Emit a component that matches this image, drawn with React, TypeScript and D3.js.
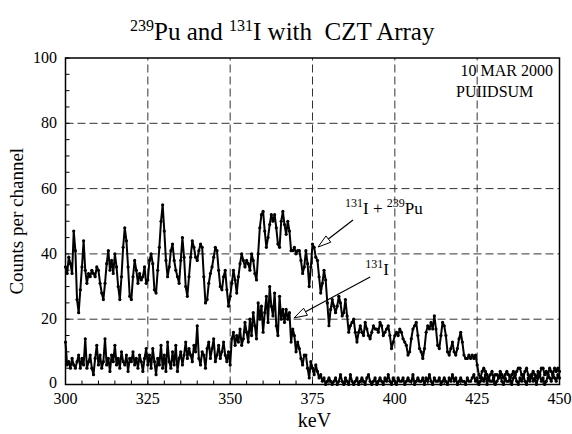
import React from 'react';
import * as d3 from 'd3';

const START_KEV = 300;
const CHANNEL_KEV = 0.5;

// 131I + 239Pu summed spectrum, counts per channel (0.5 keV channels from 300 keV)
const sumCounts = [
  36, 34, 39, 37, 34, 47, 41, 26, 22, 29, 36, 44, 35, 31, 34, 33, 35, 34, 33, 36,
  35, 31, 28, 26, 31, 37, 41, 35, 38, 34, 40, 36, 30, 26, 33, 42, 48, 44, 36, 27,
  26, 33, 38, 35, 31, 34, 32, 33, 36, 31, 32, 38, 40, 37, 29, 28, 35, 42, 50, 55,
  47, 38, 33, 36, 41, 43, 38, 35, 33, 31, 38, 45, 39, 30, 27, 33, 39, 44, 42, 39,
  38, 41, 43, 42, 33, 25, 26, 31, 34, 36, 39, 42, 41, 35, 30, 29, 33, 35, 29, 24,
  27, 31, 35, 32, 28, 33, 37, 40, 38, 36, 38, 37, 35, 40, 38, 34, 32, 40, 48, 52,
  53, 47, 42, 45, 49, 52, 50, 52, 48, 43, 42, 50, 53, 49, 46, 50, 47, 41, 41, 42,
  40, 41, 41, 38, 34, 36, 41, 37, 30, 36, 43, 42, 39, 38, 33, 28, 31, 35, 32, 25,
  18, 23, 26, 24, 22, 24, 27, 25, 21, 22, 26, 21, 16, 18, 19, 20, 16, 13, 16, 18,
  16, 15, 19, 17, 15, 14, 16, 18, 17, 17, 16, 19, 18, 15, 16, 17, 18, 15, 11, 13,
  15, 16, 15, 17, 16, 14, 13, 12, 9, 10, 14, 17, 18, 19, 15, 11, 10, 8, 11, 16,
  18, 17, 19, 17, 21, 17, 12, 11, 15, 19, 18, 15, 10, 9, 11, 13, 10, 9, 11, 14,
  16, 13, 9, 8, 8, 9, 8, 9, 8, 9, 6, 3, 2, 4, 5, 4, 3, 2, 3, 4,
  2, 3, 3, 2, 4, 3, 2, 3, 4, 3, 2, 3, 4, 3, 4, 5, 5, 3, 2, 4,
  5, 3, 2, 3, 4, 3, 2, 4, 3, 5, 5, 3, 4, 3, 5, 4, 3, 5, 4, 5,
  4,
];

// 131I only spectrum
const iodineCounts = [
  13, 6, 7, 5, 8, 6, 5, 7, 9, 5, 8, 6, 14, 5, 7, 9, 5, 3, 8, 12,
  6, 9, 5, 7, 14, 6, 8, 4, 9, 7, 12, 6, 8, 5, 10, 7, 6, 9, 4, 8,
  7, 10, 6, 8, 5, 9, 7, 4, 8, 11, 6, 9, 5, 11, 7, 3, 8, 6, 12, 5,
  9, 4, 13, 7, 5, 10, 6, 12, 4, 8, 10, 6, 9, 13, 8, 11, 9, 7, 12, 10,
  18, 8, 6, 10, 9, 5, 11, 13, 8, 11, 14, 7, 9, 12, 8, 10, 13, 9, 7, 10,
  6, 14, 16, 12, 15, 13, 17, 12, 14, 19, 16, 13, 20, 15, 22, 18, 14, 25, 20, 24,
  16, 22, 27, 19, 30, 24, 21, 28, 18, 15, 27, 20, 23, 19, 23, 20, 22, 13, 17, 15,
  10, 13, 11, 8, 6, 9, 9, 5, 2, 7, 5, 3, 6, 4, 2, 3, 1, 2, 0, 1,
  2, 1, 0, 1, 2, 0, 1, 3, 1, 0, 2, 1, 0, 3, 1, 0, 1, 2, 0, 1,
  2, 1, 0, 2, 3, 1, 0, 1, 2, 0, 1, 2, 1, 0, 2, 1, 3, 1, 0, 2,
  1, 0, 2, 1, 1, 2, 0, 1, 2, 1, 1, 3, 0, 1, 2, 1, 1, 2, 0, 2,
  1, 3, 1, 0, 2, 1, 1, 2, 0, 1, 2, 1, 0, 2, 1, 3, 1, 2, 0, 1,
  2, 1, 1, 0, 2, 1, 1, 2, 3, 1, 2, 0, 1, 2, 1, 3, 0, 2, 1, 1,
  2, 0, 1, 2, 3, 1, 0, 2, 1, 1, 2, 0, 2, 3, 1, 0, 2, 1, 3, 1,
  0, 2, 1, 3, 1, 2, 0, 2, 3, 1, 2, 0, 1, 3, 2, 1, 3, 2, 1, 3,
  2,
];

const xTicks = [300, 325, 350, 375, 400, 425, 450];
const yTicks = [0, 20, 40, 60, 80, 100];
const xMinor = d3.range(300, 451, 5);
const yMinor = d3.range(0, 101, 5);

const FONT = "'Liberation Serif', 'Times New Roman', serif";

function Arrow({ x1, y1, x2, y2 }: { x1: number; y1: number; x2: number; y2: number }) {
  const dx = x2 - x1, dy = y2 - y1;
  const len = Math.hypot(dx, dy);
  const ux = dx / len, uy = dy / len;
  const hl = 13, hw = 4;
  const bx = x2 - ux * hl, by = y2 - uy * hl;
  const px = -uy, py = ux;
  const pts = [
    [x2, y2],
    [bx + px * hw, by + py * hw],
    [bx - px * hw, by - py * hw],
  ];
  return (
    <g>
      <line x1={x1} y1={y1} x2={bx} y2={by} stroke="#000" strokeWidth={1.2} />
      <polygon points={pts.map(p => p.join(',')).join(' ')} fill="#fff" stroke="#000" strokeWidth={1} />
    </g>
  );
}

export default function App() {
  const W = 572, H = 434;
  const x = d3.scaleLinear().domain([300, 450]).range([65.5, 559.5]);
  const y = d3.scaleLinear().domain([0, 100]).range([384.5, 58]);
  const kev = (i: number) => START_KEV + i * CHANNEL_KEV;
  const line = d3.line<number>().x((d, i) => x(kev(i))).y(d => y(d));

  const [x0, x1] = x.range();
  const [y0, y1] = y.range();

  return (
    <svg width={W} height={H} style={{ position: 'absolute', left: 0, top: 0, background: '#fff' }} fontFamily={FONT}>
      <rect x={0} y={0} width={W} height={H} fill="#fff" />
      {/* title */}
      <text x={130} y={40} fontSize={25} fill="#000">
        <tspan fontSize={16} dy={-9}>239</tspan>
        <tspan dy={9}>Pu and </tspan>
        <tspan fontSize={16} dy={-9}>131</tspan>
        <tspan dy={9}>{'I with \u00a0CZT Array'}</tspan>
      </text>

      {/* grid */}
      <g stroke="#333" strokeWidth={1} strokeDasharray="8,4">
        {xTicks.slice(1, -1).map(t => (
          <line key={'gx' + t} x1={x(t)} x2={x(t)} y1={y0} y2={y1} />
        ))}
        {yTicks.slice(1, -1).map(t => (
          <line key={'gy' + t} x1={x0} x2={x1} y1={y(t)} y2={y(t)} />
        ))}
      </g>

      {/* minor ticks */}
      <g stroke="#000" strokeWidth={1}>
        {xMinor.map(t => (
          <line key={'mx' + t} x1={x(t)} x2={x(t)} y1={y0} y2={y0 - 4} />
        ))}
        {yMinor.map(t => (
          <line key={'my' + t} x1={x0} x2={x0 + 4} y1={y(t)} y2={y(t)} />
        ))}
      </g>

      {/* spectra */}
      <g fill="none" stroke="#000" strokeWidth={2} strokeLinejoin="round">
        <path d={line(sumCounts) || ''} />
        <path d={line(iodineCounts) || ''} />
      </g>
      <g fill="#000">
        {sumCounts.map((d, i) => (
          <circle key={'s' + i} cx={x(kev(i))} cy={y(d)} r={1.6} />
        ))}
        {iodineCounts.map((d, i) => (
          <circle key={'i' + i} cx={x(kev(i))} cy={y(d)} r={1.6} />
        ))}
      </g>

      {/* frame */}
      <rect x={x0} y={y1} width={x1 - x0} height={y0 - y1} fill="none" stroke="#000" strokeWidth={1.5} />

      {/* tick labels */}
      <g fontSize={16} fill="#000">
        {xTicks.map(t => (
          <text key={'xl' + t} x={x(t)} y={404} textAnchor="middle">{t}</text>
        ))}
        {yTicks.map(t => (
          <text key={'yl' + t} x={57} y={y(t) + (t === 0 ? 3 : 5)} textAnchor="end">{t}</text>
        ))}
      </g>

      {/* axis titles */}
      <text x={x(375) + 2} y={427} fontSize={20} textAnchor="middle">keV</text>
      <text transform={`translate(23,${y(50)}) rotate(-90)`} fontSize={19} textAnchor="middle">Counts per channel</text>

      {/* stamp */}
      <text x={553} y={76} fontSize={16} textAnchor="end">10 MAR 2000</text>
      <text x={456} y={97} fontSize={16}>PUIIDSUM</text>

      {/* annotations */}
      <text x={x(384.9)} y={y(52.3)} fontSize={17}>
        <tspan fontSize={12} dy={-7}>131</tspan>
        <tspan dy={7}>{'I + '}</tspan>
        <tspan fontSize={12} dy={-7}>239</tspan>
        <tspan dy={7}>Pu</tspan>
      </text>
      <Arrow x1={x(387.3)} y1={y(50.4)} x2={x(376.7)} y2={y(42.1)} />
      <text x={x(391)} y={y(33.5)} fontSize={17}>
        <tspan fontSize={12} dy={-7}>131</tspan>
        <tspan dy={7}>I</tspan>
      </text>
      <Arrow x1={x(392.5)} y1={y(32.9)} x2={x(369.4)} y2={y(20.4)} />
    </svg>
  );
}
